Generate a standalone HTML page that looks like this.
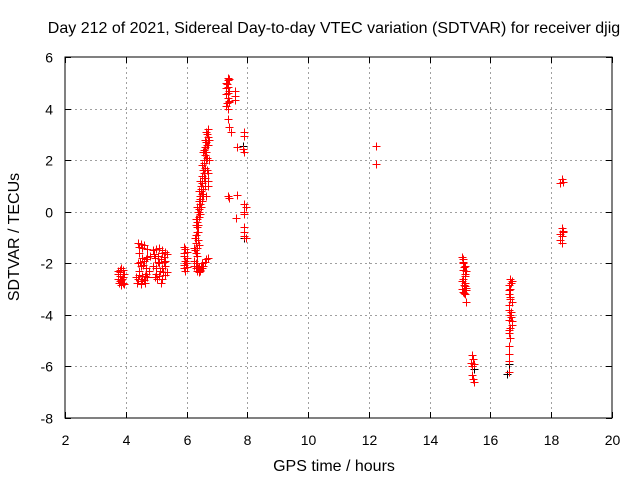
<!DOCTYPE html>
<html><head><meta charset="utf-8"><style>
body{margin:0;background:#fff}
svg text{font-family:"Liberation Sans",sans-serif;font-size:14px;fill:#000}
svg text.big{font-size:16px}
</style></head><body>
<svg id="chart" width="640" height="480" xmlns="http://www.w3.org/2000/svg">
<rect width="640" height="480" fill="#fff"/>
<text class="big" x="334" y="33" text-anchor="middle">Day 212 of 2021, Sidereal Day-to-day VTEC variation (SDTVAR) for receiver djig</text>
<text class="big" x="334" y="471" text-anchor="middle">GPS time / hours</text>
<text class="big" transform="translate(19,237) rotate(-90)" text-anchor="middle">SDTVAR / TECUs</text>
<g id="grid"></g>
<g id="ticks"></g>
<g id="marks"></g>
<rect x="65" y="57" width="547" height="361" fill="none" stroke="#000" stroke-width="1"/>
</svg>
<script>
const xTicks=[2,4,6,8,10,12,14,16,18,20];
const yTicks=[-8,-6,-4,-2,0,2,4,6];
const redX=[3.75,3.8,3.85,3.9,3.75,3.8,3.85,3.9,3.95,3.8,3.9,3.85,3.75,3.95,3.82,3.88,3.78,
4.4,4.5,4.6,4.7,4.45,4.55,4.4,4.5,4.6,4.7,4.8,4.45,4.55,4.65,4.4,4.5,4.6,4.7,4.75,4.65,4.5,4.35,4.42,4.52,4.62,4.48,4.58,4.68,4.38,4.55,4.45,4.62,
4.9,5.0,5.1,5.2,5.3,4.95,5.05,5.15,5.25,5.35,4.9,5.0,5.1,5.2,5.3,5.0,5.1,5.2,5.3,5.15,4.95,5.35,5.05,5.25,5.12,5.22,5.02,5.18,4.92,5.28,
5.9,5.95,6.0,5.9,6.0,5.95,5.9,6.0,5.95,5.9,5.93,5.97,
6.25,6.3,6.28,6.33,6.3,6.35,6.38,6.33,6.4,6.42,6.45,6.4,6.48,6.45,6.5,6.52,6.55,6.5,6.58,6.6,6.55,6.62,6.65,6.6,6.68,6.7,6.65,6.3,6.35,6.4,6.45,6.5,6.55,6.6,6.62,6.68,6.7,6.72,6.7,6.38,6.4,6.35,6.3,6.25,
6.27,6.32,6.36,6.41,6.44,6.47,6.52,6.56,6.59,6.63,6.66,6.69,6.31,6.37,6.43,6.49,6.53,6.57,6.61,6.64,6.67,6.34,6.39,6.46,6.51,6.58,6.63,6.71,6.73,6.74,
6.25,6.3,6.35,6.4,6.45,6.5,6.55,6.6,6.65,6.7,6.4,6.5,6.33,6.43,6.47,6.38,
7.35,7.4,7.3,7.35,7.4,7.3,7.35,7.4,7.3,7.35,7.4,7.3,7.35,7.4,7.45,7.6,7.6,7.6,7.9,7.9,7.85,7.9,7.65,7.35,7.4,7.65,7.62,7.9,7.95,7.9,7.9,7.88,7.9,7.95,7.9,7.33,7.38,7.32,7.37,
12.25,12.25,
15.05,15.1,15.1,15.15,15.1,15.15,15.2,15.1,15.15,15.05,15.1,15.2,15.15,15.2,15.15,15.1,15.12,15.17,15.08,15.13,15.18,15.12,
15.4,15.42,15.35,15.45,15.4,15.38,15.42,15.45,
16.65,16.7,16.6,16.65,16.6,16.65,16.6,16.7,16.6,16.65,16.6,16.7,16.65,16.6,16.65,16.6,16.6,16.6,16.6,16.7,16.6,16.68,16.63,16.66,16.62,16.67,
18.35,18.4,18.3,18.35,18.4,18.3,18.35,18.4,18.3,18.35];
const redY=[-2.3,-2.25,-2.2,-2.25,-2.6,-2.7,-2.65,-2.75,-2.8,-2.5,-2.55,-2.85,-2.4,-2.4,-2.35,-2.6,-2.75,
-1.2,-1.25,-1.3,-1.45,-1.6,-1.8,-2.0,-2.1,-1.9,-1.75,-1.7,-2.3,-2.5,-2.4,-2.6,-2.7,-2.65,-2.55,-2.3,-2.2,-2.8,-2.55,-2.45,-2.6,-2.5,-1.95,-2.05,-1.85,-2.75,-1.4,-1.35,-2.75,
-1.5,-1.45,-1.4,-1.5,-1.55,-1.8,-1.7,-1.85,-1.75,-1.65,-2.1,-2.2,-2.0,-2.2,-2.1,-2.4,-2.5,-2.6,-2.45,-2.75,-2.55,-2.35,-1.95,-1.95,-2.3,-2.35,-2.6,-1.6,-1.65,-1.9,
-1.35,-1.45,-1.55,-1.7,-1.8,-1.9,-2.05,-2.15,-2.3,-2.2,-1.6,-2.0,
-1.4,-1.6,-1.0,-0.8,-0.5,-0.3,0,0.2,0.4,0.1,0.6,0.8,1.0,1.2,1.4,1.1,1.6,1.8,2.0,2.2,2.3,2.5,2.7,2.8,3.0,3.2,3.1,-1.2,-0.6,-0.2,0.3,0.7,0.9,1.3,1.7,2.1,2.6,1.0,1.5,-1.1,-1.3,-1.7,-2.0,-1.9,
-1.5,-0.9,-0.4,0.0,0.5,0.9,1.2,1.5,1.9,2.3,2.6,2.9,-0.3,-0.8,-0.1,0.8,0.6,1.3,1.0,2.0,1.6,-1.4,-0.5,0.2,0.4,2.4,0.6,1.2,2.0,2.8,
-2.1,-2.2,-2.3,-2.35,-2.3,-2.2,-2.1,-1.95,-1.85,-1.8,-2.15,-2.0,-2.0,-2.25,-2.1,-2.2,
5.2,5.15,5.0,4.85,4.7,4.55,4.4,4.25,4.1,4.0,4.3,4.8,3.6,3.3,3.1,4.7,4.5,4.35,3.1,2.95,2.45,2.3,2.5,0.6,0.55,0.65,-0.25,0.3,0.2,0.0,-0.1,-0.6,-0.8,-1.0,-0.95,4.95,4.6,4.2,5.1,
2.55,1.85,
-1.75,-1.85,-2.0,-2.1,-2.25,-2.4,-2.3,-2.6,-2.75,-3.0,-3.1,-3.05,-3.2,-3.5,-2.9,-1.95,-2.15,-2.5,-2.7,-2.85,-2.95,-3.15,
-5.55,-5.7,-5.85,-5.9,-6.0,-6.35,-6.5,-6.6,
-2.6,-2.7,-2.85,-3.0,-3.2,-3.4,-3.6,-3.5,-3.8,-4.0,-4.2,-4.4,-4.5,-4.7,-4.9,-5.2,-5.5,-5.8,-6.2,-4.25,-3.05,-2.75,-3.3,-4.1,-4.6,-3.9,
1.25,1.15,1.1,-0.65,-0.75,-0.85,-0.95,-0.8,-1.1,-1.2];
const blackX=[15.2,15.45,16.55,16.6,7.85,7.9];
const blackY=[-3.5,-6.1,-6.3,-5.9,2.55,-1.0];
const L=65,R=612,T=57,B=418;
const sx=v=>L+(v-2)/18*(R-L);
const sy=v=>B-(v+8)/14*(B-T);
const NS="http://www.w3.org/2000/svg";
const grid=document.getElementById('grid'),ticks=document.getElementById('ticks'),marks=document.getElementById('marks');
function ln(p,x1,y1,x2,y2,st,dash){const l=document.createElementNS(NS,'line');l.setAttribute('x1',x1);l.setAttribute('y1',y1);l.setAttribute('x2',x2);l.setAttribute('y2',y2);l.setAttribute('stroke',st);if(dash)l.setAttribute('stroke-dasharray',dash);p.appendChild(l);return l;}
xTicks.forEach(v=>{const x=Math.round(sx(v))+0.5;
 if(v>2&&v<20){const g=ln(grid,x,T,x,B,'#a0a0a0','2,3');
 
 }
 ln(ticks,x,B,x,B-6,'#000');ln(ticks,x,T,x,T+6,'#000');
 const t=document.createElementNS(NS,'text');t.setAttribute('x',x);t.setAttribute('y',B+27);t.setAttribute('text-anchor','middle');t.textContent=v;
 
 
 ticks.appendChild(t);});
yTicks.forEach(v=>{const y=Math.round(sy(v))+0.5;
 if(v>-8&&v<6){const g=ln(grid,L,y,R,y,'#a0a0a0','2,3');
 
 }
 ln(ticks,L,y,L+6,y,'#000');ln(ticks,R,y,R-6,y,'#000');
 const t=document.createElementNS(NS,'text');t.setAttribute('x',L-12);t.setAttribute('y',y+5);t.setAttribute('text-anchor','end');t.textContent=v;
 
 
 ticks.appendChild(t);});
function plus(x,y,c,name){const p=document.createElementNS(NS,'path');const X=Math.round(sx(x))+0.5,Y=Math.round(sy(y))+0.5;
 p.setAttribute('d',`M${X-4} ${Y}H${X+4}M${X} ${Y-4}V${Y+4}`);p.setAttribute('stroke',c);p.setAttribute('fill','none');
 
 
 marks.appendChild(p);}
blackX.forEach((x,i)=>plus(x,blackY[i],'#000','sdtvar-point-black'));
redX.forEach((x,i)=>plus(x,redY[i],'#ff0000','sdtvar-point'));
</script>
</body></html>
